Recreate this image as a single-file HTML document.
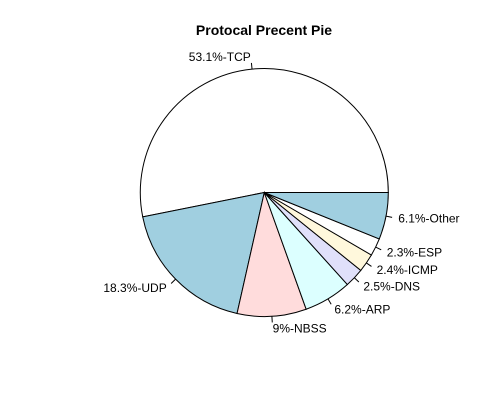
<!DOCTYPE html>
<html><head><meta charset="utf-8"><style>body{margin:0;background:#fff}svg{display:block}</style></head>
<body>
<svg id="chart" width="500" height="400" xmlns="http://www.w3.org/2000/svg" font-family="Liberation Sans, sans-serif">
<text x="264" y="35" text-anchor="middle" font-size="14" font-weight="bold">Protocal Precent Pie</text>
<g id="slices"></g>
</svg>
<script>
const categories = ["TCP","UDP","NBSS","ARP","DNS","ICMP","ESP","Other"];
const values = [53.1,18.3,9,6.2,2.5,2.4,2.3,6.1];
const labels = ["53.1%-TCP","18.3%-UDP","9%-NBSS","6.2%-ARP","2.5%-DNS","2.4%-ICMP","2.3%-ESP","6.1%-Other"];
const colors = ["#ffffff","#a0cfe0","#ffdcdc","#dcffff","#e0e0fa","#fff8dc","#ffffff","#a0cfe0"];
const cx=264.3, cy=192.5, r=124;
const g=document.getElementById('slices');
const NS="http://www.w3.org/2000/svg";
const total=values.reduce((a,b)=>a+b,0);
let acc=0;
function pt(a,rr){return [cx+rr*Math.cos(a), cy-rr*Math.sin(a)];}
values.forEach((v,i)=>{
  const a0=2*Math.PI*acc/total; acc+=v; const a1=2*Math.PI*acc/total;
  const p0=pt(a0,r), p1=pt(a1,r);
  const large=(a1-a0)>Math.PI?1:0;
  const path=document.createElementNS(NS,'path');
  path.setAttribute('d',`M${cx},${cy} L${p0[0]},${p0[1]} A${r},${r} 0 ${large} 0 ${p1[0]},${p1[1]} Z`);
  path.setAttribute('fill',colors[i]);path.setAttribute('stroke','#000');path.setAttribute('stroke-width','1');
  
  
  g.appendChild(path);
  const am=(a0+a1)/2;
  const t0=pt(am,r), t1=pt(am,r*1.05), tl=pt(am,r*1.1);
  const ln=document.createElementNS(NS,'line');
  ln.setAttribute('x1',t0[0]);ln.setAttribute('y1',t0[1]);ln.setAttribute('x2',t1[0]);ln.setAttribute('y2',t1[1]);
  ln.setAttribute('stroke','#000');
  
  
  g.appendChild(ln);
  const tx=document.createElementNS(NS,'text');
  tx.setAttribute('x',tl[0]);tx.setAttribute('y',tl[1]+4);tx.setAttribute('font-size','12');
  tx.setAttribute('text-anchor',Math.cos(am)>0?'start':'end');
  tx.textContent=labels[i];
  
  
  g.appendChild(tx);
});
</script>
</body></html>
